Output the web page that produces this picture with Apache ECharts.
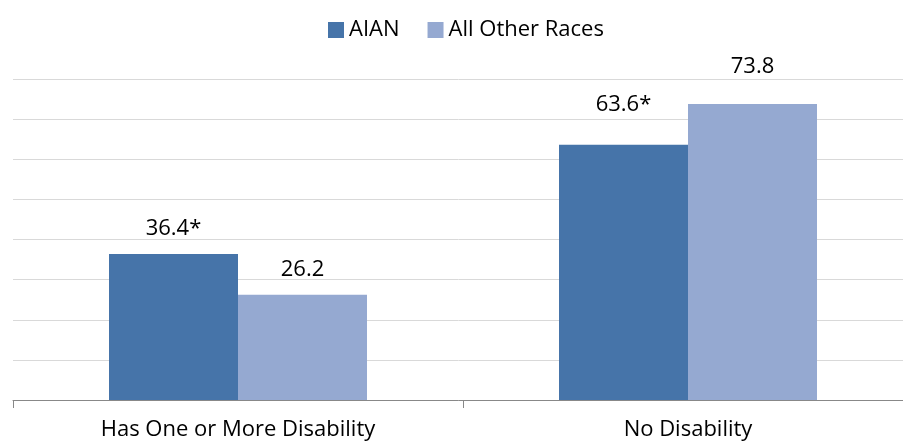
<!DOCTYPE html>
<html><head><meta charset="utf-8">
<script src="https://cdn.jsdelivr.net/npm/echarts@6/dist/echarts.min.js"></script>
<style>html,body{margin:0;padding:0;background:#fff}#c{width:903px;height:445px}</style>
</head><body><div id="c"></div>
<script>
const categories = ["Has One or More Disability", "No Disability"];
const aian = [36.4, 63.6];
const aianLabels = ["36.4*", "63.6*"];
const others = [26.2, 73.8];
const othersLabels = ["26.2", "73.8"];
const seriesNames = ["AIAN", "All Other Races"];
const font = "Open Sans";
const fs = 22;
const chart = echarts.init(document.getElementById('c'));
function items(vals, dists) {
  return vals.map((v, i) => ({value: v, label: {distance: dists[i]}}));
}
chart.setOption({
  animation: false,
  textStyle: {fontFamily: font},
  legend: {
    top: 14, left: 323, itemWidth: 16, itemHeight: 16, itemGap: 28,
    icon: 'rect',
    textStyle: {fontSize: fs, color: '#000', fontFamily: font},
    data: seriesNames
  },
  grid: {left: 13, width: 900, top: 79, bottom: 45, outerBoundsMode: 'none', containLabel: false},
  xAxis: {
    type: 'category', data: categories,
    axisLine: {lineStyle: {color: '#888', width: 1}},
    axisTick: {show: true, length: 8, lineStyle: {color: '#888'}},
    axisLabel: {fontSize: fs, color: '#000', margin: 19, fontFamily: font}
  },
  yAxis: {
    type: 'value', min: 0, max: 80, interval: 10,
    axisLabel: {show: false}, axisLine: {show: false}, axisTick: {show: false},
    splitLine: {lineStyle: {color: '#d9d9d9', width: 1}}
  },
  series: [
    {name: seriesNames[0], type: 'bar', data: items(aian, [14, 29]), barWidth: 129, barGap: '0%',
     itemStyle: {color: '#4674a9'},
     label: {show: true, position: 'top', fontSize: fs, color: '#000', fontFamily: font,
       formatter: p => aianLabels[p.dataIndex]}},
    {name: seriesNames[1], type: 'bar', data: items(others, [14, 26]), barWidth: 129, barGap: '0%',
     itemStyle: {color: '#95a9d1'},
     label: {show: true, position: 'top', fontSize: fs, color: '#000', fontFamily: font,
       formatter: p => othersLabels[p.dataIndex]}}
  ]
});
</script></body></html>
